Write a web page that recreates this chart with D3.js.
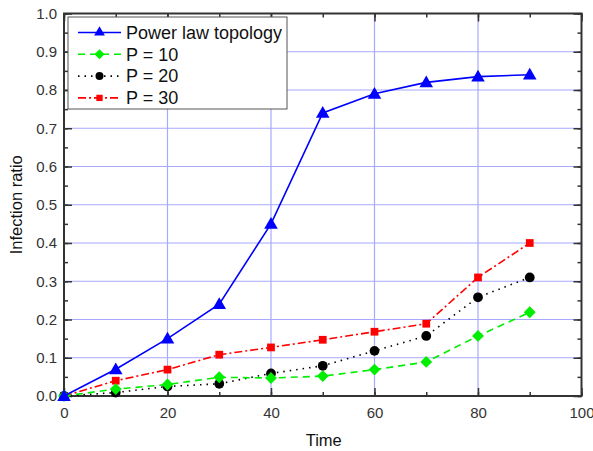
<!DOCTYPE html>
<html>
<head>
  <meta charset="utf-8">
  <script src="https://d3js.org/d3.v7.min.js"></script>
  <style>
    body { margin: 0; background: #fff; }
    text { font-family: "Liberation Sans", Arial, sans-serif; }
  </style>
</head>
<body>
<script>
  // data
  var times = [0, 10, 20, 30, 40, 50, 60, 70, 80, 90];
  var powerLaw = [0, 0.07, 0.15, 0.24, 0.45, 0.74, 0.79, 0.82, 0.835, 0.84];
  var p10 = [0, 0.018, 0.03, 0.049, 0.047, 0.052, 0.069, 0.089, 0.157, 0.219];
  var p20 = [0, 0.009, 0.025, 0.032, 0.059, 0.079, 0.118, 0.157, 0.258, 0.31];
  var p30 = [0, 0.04, 0.069, 0.108, 0.127, 0.147, 0.168, 0.189, 0.31, 0.40];
  var seriesNames = ["Power law topology", "P = 10", "P = 20", "P = 30"];
  var xTicks = [0, 20, 40, 60, 80, 100];
  var yTicks = [0, 0.1, 0.2, 0.3, 0.4, 0.5, 0.6, 0.7, 0.8, 0.9, 1.0];

  var width = 593, height = 451;
  var margins = { top: 13.5, right: 11.5, bottom: 55, left: 64 };

  var svg = d3.select("body").append("svg")
      .attr("width", width)
      .attr("height", height);

  var x = d3.scaleLinear().domain([0, 100]).range([margins.left, width - margins.right]);
  var y = d3.scaleLinear().domain([0, 1]).range([height - margins.bottom, margins.top]);

  var series = [
    { name: seriesNames[0], values: powerLaw, color: "#0000ff", dash: null, shape: "triangle" },
    { name: seriesNames[1], values: p10, color: "#00ee00", dash: "7,5", shape: "diamond" },
    { name: seriesNames[2], values: p20, color: "#000000", dash: "1.5,5", shape: "circle" },
    { name: seriesNames[3], values: p30, color: "#ff0000", dash: "8,3,2,3", shape: "square" }
  ];

  // grid
  var grid = svg.append("g");
  grid.selectAll(".hgrid")
      .data(yTicks.slice(1, -1))
      .enter().append("line")
      .attr("x1", x(0)).attr("x2", x(100))
      .attr("y1", function(d){ return y(d); })
      .attr("y2", function(d){ return y(d); })
      .style("stroke", "#a8a8ff").style("stroke-width", 1.2);
  grid.selectAll(".vgrid")
      .data(xTicks.slice(1, -1))
      .enter().append("line")
      .attr("x1", function(d){ return x(d); })
      .attr("x2", function(d){ return x(d); })
      .attr("y1", y(0)).attr("y2", y(1))
      .style("stroke", "#a8a8ff").style("stroke-width", 1.2);

  // axes with inward ticks on all four sides
  function styleAxis(g) {
    g.select(".domain").remove();
    g.selectAll("line").style("stroke", "#333").style("stroke-width", 1.5);
    g.selectAll("text").style("font-size", "15px").style("fill", "#333");
  }
  var minorX = d3.range(0, 101, 10), minorY = d3.range(0, 1.001, 0.05);

  svg.append("g").attr("transform", "translate(0," + y(0) + ")")
     .call(d3.axisBottom(x).tickValues(minorX).tickSize(-4).tickFormat(""))
     .call(styleAxis);
  svg.append("g").attr("transform", "translate(0," + y(0) + ")")
     .call(d3.axisBottom(x).tickValues(xTicks).tickSize(-8).tickPadding(11).tickFormat(d3.format("d")))
     .call(styleAxis);
  svg.append("g").attr("transform", "translate(0," + y(1) + ")")
     .call(d3.axisTop(x).tickValues(minorX).tickSize(-4).tickFormat(""))
     .call(styleAxis);
  svg.append("g").attr("transform", "translate(0," + y(1) + ")")
     .call(d3.axisTop(x).tickValues(xTicks).tickSize(-8).tickFormat(""))
     .call(styleAxis);
  svg.append("g").attr("transform", "translate(" + x(0) + ",0)")
     .call(d3.axisLeft(y).tickValues(minorY).tickSize(-4).tickFormat(""))
     .call(styleAxis);
  svg.append("g").attr("transform", "translate(" + x(0) + ",0)")
     .call(d3.axisLeft(y).tickValues(yTicks).tickSize(-8).tickPadding(7).tickFormat(d3.format(".1f")))
     .call(styleAxis);
  svg.append("g").attr("transform", "translate(" + x(100) + ",0)")
     .call(d3.axisRight(y).tickValues(minorY).tickSize(-4).tickFormat(""))
     .call(styleAxis);
  svg.append("g").attr("transform", "translate(" + x(100) + ",0)")
     .call(d3.axisRight(y).tickValues(yTicks).tickSize(-8).tickFormat(""))
     .call(styleAxis);

  // frame
  svg.append("rect")
     .attr("x", x(0)).attr("y", y(1))
     .attr("width", x(100) - x(0)).attr("height", y(0) - y(1))
     .style("fill", "none").style("stroke", "#333").style("stroke-width", 2);

  // diamonds are squares turned 45 degrees
  var symbolTypes = {
    triangle: d3.symbolTriangle,
    diamond: d3.symbolSquare,
    circle: d3.symbolCircle,
    square: d3.symbolSquare
  };
  var symbolSizes = { triangle: 80, diamond: 70, circle: 75, square: 60 };
  var legendSizes = { triangle: 50, diamond: 50, circle: 50, square: 40 };

  function symbolPath(s, sizes) {
    return d3.symbol().type(symbolTypes[s.shape]).size(sizes[s.shape])();
  }
  function turn(s) {
    return s.shape == "diamond" ? " rotate(45)" : "";
  }

  var line = d3.line()
      .x(function(d, i){ return x(times[i]); })
      .y(function(d){ return y(d); });

  // draw back to front so the power law line sits on top
  series.slice().reverse().forEach(function(s){
    svg.append("path")
       .datum(s.values)
       .attr("d", line)
       .style("fill", "none")
       .style("stroke", s.color)
       .style("stroke-width", 1.6)
       .style("stroke-dasharray", s.dash);

    svg.selectAll(null)
       .data(s.values)
       .enter().append("path")
       .attr("d", symbolPath(s, symbolSizes))
       .attr("transform", function(d, i){
         var dy = s.shape == "triangle" ? 1 : 0;
         return "translate(" + x(times[i]) + "," + (y(d) + dy) + ")" + turn(s);
       })
       .style("fill", s.color);
  });

  // legend
  var legend = svg.append("g");
  legend.append("rect")
        .attr("x", 68).attr("y", 17)
        .attr("width", 219).attr("height", 92)
        .style("fill", "#fff").style("stroke", "#555").style("stroke-width", 1);

  series.forEach(function(s, i){
    var ly = 32.5 + i * 21.8;
    legend.append("line")
          .attr("x1", 78).attr("x2", 121)
          .attr("y1", ly).attr("y2", ly)
          .style("stroke", s.color)
          .style("stroke-width", 1.6)
          .style("stroke-dasharray", s.dash);
    legend.append("path")
          .attr("d", symbolPath(s, legendSizes))
          .attr("transform", "translate(99.5," + ly + ")" + turn(s))
          .style("fill", s.color);
    legend.append("text")
          .attr("x", 126).attr("y", ly)
          .attr("dy", "0.35em")
          .style("font-size", "18px")
          .style("fill", "#111")
          .text(s.name);
  });

  // axis titles
  svg.append("text")
     .attr("x", (x(0) + x(100)) / 2 + 1)
     .attr("y", 446)
     .attr("text-anchor", "middle")
     .style("font-size", "16.5px")
     .style("fill", "#111")
     .text("Time");

  svg.append("text")
     .attr("transform", "translate(22," + ((y(0) + y(1)) / 2) + ") rotate(-90)")
     .attr("text-anchor", "middle")
     .style("font-size", "16.5px")
     .style("fill", "#111")
     .text("Infection ratio");
</script>
</body>
</html>
